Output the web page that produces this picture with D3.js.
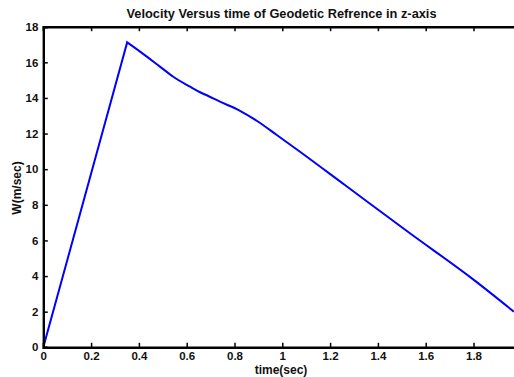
<!DOCTYPE html>
<html><head><meta charset="utf-8">
<script src="https://cdn.jsdelivr.net/npm/d3@7"></script>
<style>body{margin:0;background:#fff}svg{display:block}text{font-family:"Liberation Sans",Arial,Helvetica,sans-serif;font-weight:bold;fill:#111}</style>
</head><body>
<script>
const timeSec = [0, 0.351, 0.405, 0.488, 0.544, 0.614, 0.656, 0.690, 0.739, 0.823, 0.893, 0.977, 1.074, 1.262, 1.534, 1.800, 1.969];
const velocity = [0, 17.12, 16.60, 15.76, 15.19, 14.63, 14.32, 14.11, 13.79, 13.28, 12.72, 11.92, 10.98, 9.11, 6.40, 3.80, 2.00];
const xTicks = [0, 0.2, 0.4, 0.6, 0.8, 1, 1.2, 1.4, 1.6, 1.8];
const yTicks = [0, 2, 4, 6, 8, 10, 12, 14, 16, 18];
const titleText = "Velocity Versus time of Geodetic Refrence in z-axis";
const xLabel = "time(sec)";
const yLabel = "W(m/sec)";

const W = 514, H = 377;
const L = 43.3, T = 26.7, B = 347.3;
const x = d3.scaleLinear().domain([0, 2]).range([L, L + 478]);
const y = d3.scaleLinear().domain([0, 18]).range([B, T]);

const svg = d3.select("body").append("svg").attr("width", W).attr("height", H);

svg.append("defs").append("clipPath").attr("id", "c")
  .append("rect").attr("x", L).attr("y", T - 2).attr("width", x(2) - L).attr("height", B - T + 2);

const pts = timeSec.map((t, i) => [t, velocity[i]]);
const peak = d3.maxIndex(velocity);
const rise = pts.slice(0, peak + 1);
const fall = pts.slice(peak);
const lineLin = d3.line().x(d => x(d[0])).y(d => y(d[1]));
const lineSmooth = d3.line().x(d => x(d[0])).y(d => y(d[1])).curve(d3.curveMonotoneX);
const g = svg.append("g").attr("clip-path", "url(#c)");
g.append("path").attr("fill", "none").attr("stroke", "#0000ff").attr("stroke-width", 2)
  .attr("stroke-linejoin", "miter")
  .attr("d", lineLin(rise) + lineSmooth(fall).replace(/^M[^CL]*/, "L" + x(fall[0][0]) + "," + y(fall[0][1])));

// axes
const xAxis = svg.append("g").attr("transform", `translate(0,${B})`)
  .call(d3.axisBottom(x).tickValues(xTicks).tickSize(-4.5).tickFormat(d => d3.format("")(d)));
const xTop = svg.append("g").attr("transform", `translate(0,${T})`)
  .call(d3.axisTop(x).tickValues(xTicks).tickSize(-4.5).tickFormat(""));
const yAxis = svg.append("g").attr("transform", `translate(${L},0)`)
  .call(d3.axisLeft(y).tickValues(yTicks).tickSize(-4.5));

[xAxis, xTop, yAxis].forEach(g => {
  g.select(".domain").attr("stroke", "#000").attr("stroke-width", 2.4);
  g.selectAll(".tick line").attr("stroke", "#000").attr("stroke-width", 1.5);
  g.selectAll("text").attr("font-size", 11.5).attr("fill", "#111")
    .attr("font-family", '"Liberation Sans",Arial,sans-serif').attr("font-weight", "bold");
});
xAxis.selectAll(".tick text").attr("dy", "0.71em").attr("y", 4.5);
yAxis.selectAll(".tick text").attr("x", -5);

svg.append("text").attr("x", 281.5).attr("y", 17.5).attr("text-anchor", "middle")
  .attr("font-size", 12.8).text(titleText);
svg.append("text").attr("x", 281).attr("y", 373.5).attr("text-anchor", "middle")
  .attr("font-size", 12).text(xLabel);
svg.append("text").attr("transform", "translate(21,188) rotate(-90)").attr("text-anchor", "middle")
  .attr("font-size", 12).text(yLabel);
</script>
</body></html>
